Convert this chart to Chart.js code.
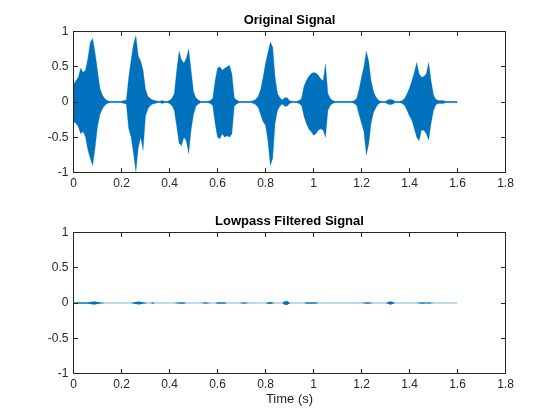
<!DOCTYPE html>
<html>
<head>
<meta charset="utf-8">
<title>Original vs Lowpass Filtered Signal</title>
<script src="https://cdn.jsdelivr.net/npm/chart.js@4.4.1/dist/chart.umd.min.js"></script>
<style>
  html, body { margin: 0; padding: 0; background: #fff; }
  #wrap { position: relative; width: 560px; height: 420px; }
  .panel { position: absolute; left: 0; width: 560px; }
</style>
</head>
<body>
<div id="wrap">
  <div class="panel" style="top:0;height:200px"><canvas id="topChart"></canvas></div>
  <div class="panel" style="top:200px;height:220px"><canvas id="bottomChart"></canvas></div>
</div>
<script>
// sample times (s), one envelope reading every 10 ms
const times = [
  0.00, 0.01, 0.02, 0.03, 0.04, 0.05, 0.06, 0.07, 0.08, 0.09,
  0.10, 0.11, 0.12, 0.13, 0.14, 0.15, 0.16, 0.17, 0.18, 0.19,
  0.20, 0.21, 0.22, 0.23, 0.24, 0.25, 0.26, 0.27, 0.28, 0.29,
  0.30, 0.31, 0.32, 0.33, 0.34, 0.35, 0.36, 0.37, 0.38, 0.39,
  0.40, 0.41, 0.42, 0.43, 0.44, 0.45, 0.46, 0.47, 0.48, 0.49,
  0.50, 0.51, 0.52, 0.53, 0.54, 0.55, 0.56, 0.57, 0.58, 0.59,
  0.60, 0.61, 0.62, 0.63, 0.64, 0.65, 0.66, 0.67, 0.68, 0.69,
  0.70, 0.71, 0.72, 0.73, 0.74, 0.75, 0.76, 0.77, 0.78, 0.79,
  0.80, 0.81, 0.82, 0.83, 0.84, 0.85, 0.86, 0.87, 0.88, 0.89,
  0.90, 0.91, 0.92, 0.93, 0.94, 0.95, 0.96, 0.97, 0.98, 0.99,
  1.00, 1.01, 1.02, 1.03, 1.04, 1.05, 1.06, 1.07, 1.08, 1.09,
  1.10, 1.11, 1.12, 1.13, 1.14, 1.15, 1.16, 1.17, 1.18, 1.19,
  1.20, 1.21, 1.22, 1.23, 1.24, 1.25, 1.26, 1.27, 1.28, 1.29,
  1.30, 1.31, 1.32, 1.33, 1.34, 1.35, 1.36, 1.37, 1.38, 1.39,
  1.40, 1.41, 1.42, 1.43, 1.44, 1.45, 1.46, 1.47, 1.48, 1.49,
  1.50, 1.51, 1.52, 1.53, 1.54, 1.55, 1.56, 1.57, 1.58, 1.59,
  1.60
];

// original signal: upper / lower envelope
const origUpper = [
  0.25, 0.30, 0.35, 0.48, 0.42, 0.45, 0.62, 0.85, 0.90, 0.70,
  0.45, 0.20, 0.10, 0.05, 0.02, 0.01, 0.01, 0.01, 0.01, 0.01,
  0.01, 0.02, 0.03, 0.35, 0.60, 0.82, 0.94, 0.65, 0.58, 0.45,
  0.18, 0.08, 0.05, 0.03, 0.02, 0.01, 0.01, 0.02, 0.01, 0.01,
  0.02, 0.05, 0.12, 0.45, 0.72, 0.60, 0.55, 0.62, 0.75, 0.45,
  0.15, 0.06, 0.03, 0.01, 0.01, 0.01, 0.01, 0.02, 0.05, 0.30,
  0.48, 0.50, 0.45, 0.48, 0.50, 0.52, 0.40, 0.06, 0.03, 0.01,
  0.01, 0.01, 0.01, 0.01, 0.01, 0.02, 0.04, 0.08, 0.18, 0.35,
  0.55, 0.70, 0.85, 0.78, 0.35, 0.12, 0.06, 0.03, 0.06, 0.06,
  0.02, 0.01, 0.01, 0.01, 0.02, 0.05, 0.22, 0.30, 0.36, 0.40,
  0.42, 0.41, 0.38, 0.33, 0.30, 0.54, 0.12, 0.05, 0.02, 0.01,
  0.01, 0.01, 0.01, 0.01, 0.01, 0.01, 0.01, 0.02, 0.05, 0.18,
  0.35, 0.50, 0.72, 0.58, 0.30, 0.15, 0.07, 0.03, 0.01, 0.01,
  0.01, 0.03, 0.04, 0.03, 0.01, 0.01, 0.01, 0.02, 0.05, 0.12,
  0.20, 0.30, 0.42, 0.56, 0.40, 0.35, 0.36, 0.40, 0.56, 0.30,
  0.10, 0.04, 0.02, 0.02, 0.02, 0.01, 0.01, 0.01, 0.01, 0.01,
  0.01
];
const origLower = [
  -0.28, -0.30, -0.35, -0.45, -0.42, -0.50, -0.68, -0.80, -0.90, -0.65,
  -0.35, -0.18, -0.10, -0.05, -0.02, -0.01, -0.01, -0.01, -0.01, -0.01,
  -0.01, -0.02, -0.03, -0.38, -0.50, -0.73, -0.99, -0.65, -0.50, -0.68,
  -0.20, -0.10, -0.05, -0.03, -0.02, -0.01, -0.01, -0.02, -0.01, -0.01,
  -0.02, -0.05, -0.12, -0.35, -0.58, -0.62, -0.50, -0.55, -0.73, -0.40,
  -0.18, -0.06, -0.03, -0.01, -0.01, -0.01, -0.01, -0.02, -0.05, -0.30,
  -0.50, -0.52, -0.45, -0.50, -0.48, -0.50, -0.45, -0.06, -0.03, -0.01,
  -0.01, -0.01, -0.01, -0.01, -0.01, -0.02, -0.04, -0.08, -0.18, -0.28,
  -0.33, -0.55, -0.90, -0.80, -0.30, -0.12, -0.06, -0.03, -0.06, -0.06,
  -0.02, -0.01, -0.01, -0.01, -0.02, -0.05, -0.20, -0.30, -0.38, -0.42,
  -0.47, -0.45, -0.40, -0.38, -0.40, -0.50, -0.12, -0.05, -0.02, -0.01,
  -0.01, -0.01, -0.01, -0.01, -0.01, -0.01, -0.01, -0.02, -0.05, -0.18,
  -0.30, -0.42, -0.75, -0.60, -0.30, -0.15, -0.08, -0.03, -0.01, -0.01,
  -0.01, -0.03, -0.04, -0.03, -0.01, -0.01, -0.01, -0.02, -0.05, -0.12,
  -0.20, -0.26, -0.38, -0.50, -0.55, -0.40, -0.40, -0.45, -0.54, -0.30,
  -0.12, -0.04, -0.02, -0.02, -0.02, -0.01, -0.01, -0.01, -0.01, -0.01,
  -0.01
];

// lowpass filtered signal: upper / lower envelope
const filtUpper = [
  0.008, 0.010, 0.010, 0.012, 0.010, 0.012, 0.012, 0.015, 0.020, 0.020,
  0.015, 0.010, 0.008, 0.004, 0.004, 0.004, 0.004, 0.004, 0.004, 0.004,
  0.004, 0.004, 0.004, 0.004, 0.004, 0.010, 0.015, 0.020, 0.018, 0.010,
  0.008, 0.004, 0.004, 0.012, 0.004, 0.004, 0.004, 0.004, 0.004, 0.004,
  0.004, 0.004, 0.004, 0.008, 0.012, 0.010, 0.012, 0.004, 0.004, 0.004,
  0.004, 0.004, 0.004, 0.004, 0.008, 0.010, 0.008, 0.004, 0.004, 0.004,
  0.010, 0.012, 0.012, 0.010, 0.004, 0.004, 0.004, 0.004, 0.004, 0.004,
  0.008, 0.010, 0.008, 0.004, 0.004, 0.004, 0.004, 0.004, 0.004, 0.004,
  0.004, 0.010, 0.015, 0.008, 0.004, 0.004, 0.004, 0.004, 0.025, 0.030,
  0.008, 0.004, 0.004, 0.004, 0.004, 0.004, 0.004, 0.010, 0.012, 0.010,
  0.012, 0.010, 0.004, 0.004, 0.004, 0.004, 0.004, 0.004, 0.004, 0.004,
  0.004, 0.004, 0.004, 0.004, 0.004, 0.004, 0.004, 0.004, 0.004, 0.004,
  0.004, 0.008, 0.010, 0.012, 0.008, 0.004, 0.004, 0.004, 0.004, 0.004,
  0.004, 0.012, 0.025, 0.015, 0.004, 0.004, 0.004, 0.004, 0.004, 0.004,
  0.004, 0.004, 0.004, 0.004, 0.008, 0.010, 0.010, 0.008, 0.010, 0.008,
  0.004, 0.004, 0.004, 0.004, 0.004, 0.004, 0.004, 0.004, 0.004, 0.004,
  0.004
];
const filtLower = [
  -0.008, -0.010, -0.010, -0.012, -0.010, -0.012, -0.012, -0.015, -0.020, -0.020,
  -0.015, -0.010, -0.008, -0.004, -0.004, -0.004, -0.004, -0.004, -0.004, -0.004,
  -0.004, -0.004, -0.004, -0.004, -0.004, -0.010, -0.015, -0.020, -0.018, -0.010,
  -0.008, -0.004, -0.004, -0.012, -0.004, -0.004, -0.004, -0.004, -0.004, -0.004,
  -0.004, -0.004, -0.004, -0.008, -0.012, -0.010, -0.012, -0.004, -0.004, -0.004,
  -0.004, -0.004, -0.004, -0.004, -0.008, -0.010, -0.008, -0.004, -0.004, -0.004,
  -0.010, -0.012, -0.012, -0.010, -0.004, -0.004, -0.004, -0.004, -0.004, -0.004,
  -0.008, -0.010, -0.008, -0.004, -0.004, -0.004, -0.004, -0.004, -0.004, -0.004,
  -0.004, -0.010, -0.015, -0.008, -0.004, -0.004, -0.004, -0.004, -0.025, -0.030,
  -0.008, -0.004, -0.004, -0.004, -0.004, -0.004, -0.004, -0.010, -0.012, -0.010,
  -0.012, -0.010, -0.004, -0.004, -0.004, -0.004, -0.004, -0.004, -0.004, -0.004,
  -0.004, -0.004, -0.004, -0.004, -0.004, -0.004, -0.004, -0.004, -0.004, -0.004,
  -0.004, -0.008, -0.010, -0.012, -0.008, -0.004, -0.004, -0.004, -0.004, -0.004,
  -0.004, -0.012, -0.025, -0.015, -0.004, -0.004, -0.004, -0.004, -0.004, -0.004,
  -0.004, -0.004, -0.004, -0.004, -0.008, -0.010, -0.010, -0.008, -0.010, -0.008,
  -0.004, -0.004, -0.004, -0.004, -0.004, -0.004, -0.004, -0.004, -0.004, -0.004,
  -0.004
];

const xTicks = [0, 0.2, 0.4, 0.6, 0.8, 1, 1.2, 1.4, 1.6, 1.8];
const yTicks = [-1, -0.5, 0, 0.5, 1];
const titles = ["Original Signal", "Lowpass Filtered Signal"];
const xLabel = "Time (s)";

const FONT = "'Liberation Sans', Arial, Helvetica, sans-serif";
const WAVE = "#0072BD";
const AXIS = "#262626";

// MATLAB style box with inward ticks on all four sides
const frameAndTicks = {
  id: "frameAndTicks",
  afterDatasetsDraw(chart) {
    const { ctx, chartArea: a, scales: { x, y } } = chart;
    const len = 4.5;
    ctx.save();
    ctx.strokeStyle = AXIS;
    ctx.lineWidth = 1;
    ctx.beginPath();
    x.ticks.forEach(t => {
      const px = Math.floor(x.getPixelForValue(t.value)) + 0.5;
      ctx.moveTo(px, a.bottom); ctx.lineTo(px, a.bottom - len);
      ctx.moveTo(px, a.top); ctx.lineTo(px, a.top + len);
    });
    y.ticks.forEach(t => {
      const py = Math.floor(y.getPixelForValue(t.value)) + 0.5;
      ctx.moveTo(a.left, py); ctx.lineTo(a.left + len, py);
      ctx.moveTo(a.right, py); ctx.lineTo(a.right - len, py);
    });
    ctx.stroke();
    ctx.strokeRect(a.left, a.top, a.right - a.left, a.bottom - a.top);
    ctx.restore();
  }
};

function pts(vals) {
  return times.map((t, i) => ({ x: t, y: vals[i] }));
}

function makeChart(canvasId, upper, lower, cfg) {
  return new Chart(document.getElementById(canvasId), {
    type: "line",
    data: {
      datasets: [
        { data: pts(upper), fill: "+1", backgroundColor: WAVE, borderColor: WAVE,
          borderWidth: cfg.edge, pointRadius: 0, tension: 0 },
        { data: pts(lower), fill: false, borderColor: WAVE,
          borderWidth: cfg.edge, pointRadius: 0, tension: 0 }
      ]
    },
    options: {
      responsive: true,
      maintainAspectRatio: false,
      animation: false,
      events: [],
      layout: { padding: { top: 0, right: 54.5, bottom: 0, left: 0 } },
      plugins: {
        legend: { display: false },
        tooltip: { enabled: false },
        title: {
          display: true,
          text: cfg.title,
          fullSize: false,
          color: "#000",
          font: { family: FONT, size: 13, weight: "bold" },
          padding: cfg.titlePad
        }
      },
      scales: {
        x: {
          type: "linear",
          min: 0,
          max: 1.8,
          afterBuildTicks: s => { s.ticks = xTicks.map(v => ({ value: v })); },
          afterFit: s => { s.height = cfg.xHeight; },
          grid: { display: false, drawTicks: false },
          border: { display: false },
          ticks: {
            autoSkip: false, maxRotation: 0, padding: 4, color: AXIS,
            font: { family: FONT, size: 12 },
            callback: v => String(v)
          },
          title: cfg.xTitle
        },
        y: {
          min: -1,
          max: 1,
          afterBuildTicks: s => { s.ticks = yTicks.map(v => ({ value: v })); },
          afterFit: s => { s.width = 73.5; },
          grid: { display: false, drawTicks: false },
          border: { display: false },
          ticks: {
            padding: 5, color: AXIS,
            font: { family: FONT, size: 12 },
            callback: v => String(v)
          }
        }
      }
    },
    plugins: [frameAndTicks]
  });
}

makeChart("topChart", origUpper, origLower, {
  title: titles[0],
  titlePad: { top: 12.7, bottom: 3.2 },
  xHeight: 27.5,
  edge: 0.3,
  xTitle: { display: false }
});

makeChart("bottomChart", filtUpper, filtLower, {
  title: titles[1],
  titlePad: { top: 13.2, bottom: 3.7 },
  xHeight: 46.5,
  edge: 0,
  xTitle: {
    display: true, text: xLabel, color: AXIS,
    font: { family: FONT, size: 13 },
    padding: { top: 0, bottom: 13.2 }
  }
});
</script>
</body>
</html>
